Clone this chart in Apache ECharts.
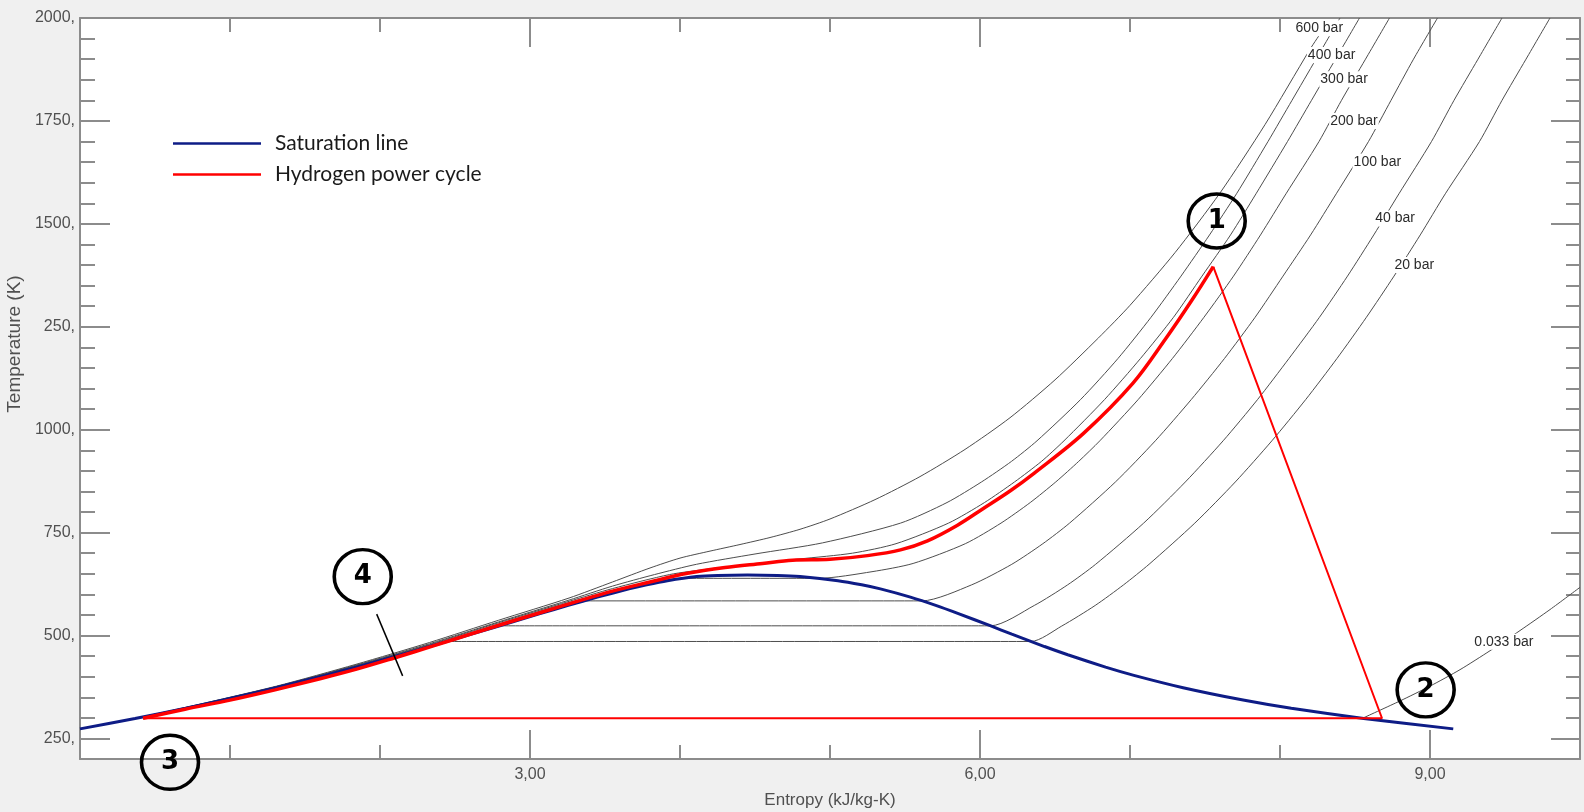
<!DOCTYPE html>
<html lang="en">
<head>
<meta charset="utf-8">
<title>T-s diagram - hydrogen power cycle</title>
<script src="https://cdn.jsdelivr.net/npm/echarts@6.0.0/dist/echarts.min.js"></script>
<style>
  html, body { margin: 0; padding: 0; background: #f0f0f0; }
  #main { width: 1584px; height: 812px; }
</style>
</head>
<body>
<div id="main"></div>
<script type="text/javascript">
// ---- data (entropy kJ/kg-K, temperature K) ----
var xMajorTicks = [3, 6, 9];
var xTickLabels = ['3,00', '6,00', '9,00'];
var xMinorTicks = [1, 2, 4, 5, 7, 8];
var yMajorTicks = [250, 500, 750, 1000, 1250, 1500, 1750, 2000];
var yTickLabels = ['250,', '500,', '750,', '1000,', '250,', '1500,', '1750,', '2000,'];
var yMinorTicks = [300, 350, 400, 450, 550, 600, 650, 700, 800, 850, 900, 950,
    1050, 1100, 1150, 1200, 1300, 1350, 1400, 1450, 1550, 1600, 1650, 1700,
    1800, 1850, 1900, 1950];

var satLine = [[0.0, 273.2], [0.367, 298.2], [0.704, 323.2], [0.955, 343.2], [1.307, 373.2],
    [1.634, 403.2], [1.842, 423.2], [2.139, 453.2], [2.331, 473.2], [2.610, 503.2],
    [2.793, 523.2], [3.067, 553.2], [3.255, 573.2], [3.449, 593.2], [3.660, 613.2],
    [3.778, 623.2], [3.916, 633.2], [4.111, 643.2], [4.25, 646.0], [4.45, 647.0],
    [4.65, 646.0], [4.800, 643.2], [5.053, 633.2], [5.211, 623.2], [5.336, 613.2],
    [5.536, 593.2], [5.705, 573.2], [5.856, 553.2], [6.072, 523.2], [6.212, 503.2],
    [6.430, 473.2], [6.585, 453.2], [6.837, 423.2], [7.026, 403.2], [7.354, 373.2],
    [7.754, 343.2], [8.075, 323.2], [8.558, 298.2], [9.155, 273.2]];

var cycleCurve = [[0.42, 299], [0.70, 321], [1.00, 343], [1.30, 368], [1.60, 395], [1.85, 419],
    [2.10, 446], [2.35, 474], [2.60, 503], [2.90, 537], [3.20, 570], [3.50, 603], [3.80, 630],
    [4.05, 651], [4.30, 665], [4.55, 675], [4.75, 683], [5.00, 685], [5.25, 694], [5.47, 708],
    [5.65, 730], [5.85, 768], [6.02, 808], [6.20, 851], [6.36, 894], [6.69, 991], [7.02, 1113],
    [7.24, 1222], [7.41, 1313], [7.555, 1396]];
var cycleClosing = [[7.555, 1396], [8.68, 299], [0.42, 299]];

var isobar600 = [[0, 273.5], [0.37, 299], [0.70, 325], [1.31, 377], [1.84, 430], [2.33, 483],
    [2.79, 537], [3.26, 591], [3.55, 630], [3.80, 664], [4.00, 688], [4.20, 705], [4.40, 721],
    [4.60, 738], [4.80, 758], [5.00, 783], [5.30, 830], [5.60, 886], [5.90, 952], [6.20, 1029],
    [6.50, 1121], [6.79, 1223], [7.00, 1302], [7.30, 1430], [7.60, 1575], [7.90, 1741],
    [8.20, 1924], [8.28, 1968]];
var isobar400 = [[0, 273.4], [0.37, 298.8], [0.70, 324.4], [1.31, 376], [1.84, 428], [2.33, 480],
    [2.79, 533], [3.26, 586], [3.55, 620], [3.83, 648], [4.11, 673], [4.50, 698], [4.95, 725],
    [5.47, 773], [5.78, 823], [6.01, 873], [6.21, 923], [6.38, 973], [6.67, 1073], [6.92, 1173],
    [7.14, 1273], [7.34, 1373], [7.53, 1473], [7.71, 1573], [7.92, 1700],
    [8.08, 1800], [8.24, 1900], [8.40, 2000]];
var isobar300 = [[0, 273.3], [0.37, 298.6], [0.70, 324], [1.31, 375], [1.84, 427], [2.33, 478],
    [2.79, 531], [3.26, 583], [3.55, 614], [3.93, 648], [4.20, 662], [4.47, 673], [4.80, 686],
    [5.15, 700], [5.44, 723], [5.79, 773], [6.03, 823], [6.23, 873], [6.41, 923], [6.56, 973],
    [6.83, 1073], [7.07, 1173], [7.29, 1273], [7.48, 1373], [7.67, 1473], [7.84, 1573],
    [8.05, 1700], [8.21, 1800], [8.37, 1900], [8.53, 2000]];
var isobar200 = [[0, 273.3], [0.37, 298.5], [0.70, 323.8], [1.31, 374.5], [1.84, 425.5],
    [2.33, 476], [2.79, 528], [3.26, 580], [3.60, 610], [4.015, 638.9], [4.927, 638.9],
    [5.28, 655], [5.554, 675], [5.902, 723], [6.140, 773], [6.335, 823], [6.505, 873],
    [6.658, 923], [6.799, 973], [7.054, 1073], [7.283, 1173], [7.493, 1273], [7.69, 1373],
    [7.87, 1473], [8.04, 1573], [8.26, 1700], [8.41, 1800], [8.57, 1900], [8.73, 2000]];
var isobar100 = [[3.360, 584.1], [5.614, 584.1], [5.944, 623], [6.212, 673], [6.419, 723],
    [6.597, 773], [6.903, 873], [7.169, 973], [7.408, 1073], [7.63, 1173], [7.834, 1273],
    [8.02, 1373], [8.204, 1473], [8.375, 1573], [8.59, 1700], [8.74, 1800],
    [8.89, 1900], [9.05, 2000]];
var isobar40 = [[2.797, 523.5], [6.070, 523.5], [6.362, 573], [6.584, 623], [6.771, 673],
    [7.091, 773], [7.369, 873], [7.621, 973], [7.850, 1073], [8.06, 1173], [8.263, 1273],
    [8.45, 1373], [8.625, 1473], [8.793, 1573], [9.01, 1700], [9.16, 1800],
    [9.32, 1900], [9.48, 2000]];
var isobar20 = [[2.447, 485.5], [6.340, 485.5], [6.545, 523], [6.768, 573], [6.957, 623],
    [7.127, 673], [7.432, 773], [7.702, 873], [7.946, 973], [8.171, 1073], [8.38, 1173],
    [8.576, 1273], [8.76, 1373], [8.935, 1473], [9.102, 1573], [9.33, 1700],
    [9.48, 1800], [9.64, 1900], [9.80, 2000]];
var isobar0033 = [[8.55, 299], [8.80, 341], [9.00, 377], [9.20, 417], [9.40, 463],
    [9.60, 512], [9.80, 563], [10.0, 617]];

var isobarNames = ['600 bar', '400 bar', '300 bar', '200 bar', '100 bar', '40 bar', '20 bar', '0.033 bar'];
var isobarLabelAt = [[8.262, 1975], [8.344, 1910], [8.427, 1851], [8.493, 1750],
    [8.649, 1651], [8.767, 1513], [8.895, 1400], [9.493, 485]];

var stateNames = ['1', '2', '3', '4'];
var stateAt = [[7.578, 1507], [8.971, 368], [0.60, 192], [1.885, 643]];
var pointer4 = [[1.978, 552], [2.151, 402]];

// ---- chart ----
var myChart = echarts.init(document.getElementById('main'));
var axisGray = '#8c8c8c';
var tickFont = 'Liberation Sans';

function frameAxis(position, ticks, len, withLine, range) {
    return {
        type: 'value', position: position, min: range[0], max: range[1],
        axisLine: { show: withLine, onZero: false, lineStyle: { color: axisGray, width: 2 } },
        axisTick: { show: true, inside: true, length: len, customValues: ticks,
                    lineStyle: { color: axisGray, width: 2 } },
        axisLabel: { show: false },
        splitLine: { show: false }
    };
}

var xRange = [0, 10], yRange = [200, 2000];
var xMain = frameAxis('bottom', xMajorTicks, 29, true, xRange);
xMain.axisLabel = {
    show: true, customValues: xMajorTicks, margin: 8, color: '#505050',
    fontSize: 16, fontFamily: tickFont,
    formatter: function (v) { return xTickLabels[xMajorTicks.indexOf(v)]; }
};
xMain.name = 'Entropy (kJ/kg-K)';
xMain.nameLocation = 'middle';
xMain.nameGap = 33;
xMain.nameTextStyle = { color: '#505050', fontSize: 17, fontFamily: tickFont };

var yMain = frameAxis('left', yMajorTicks, 30, true, yRange);
yMain.axisLabel = {
    show: true, customValues: yMajorTicks, margin: 5, color: '#505050',
    fontSize: 16, fontFamily: tickFont,
    formatter: function (v) { return yTickLabels[yMajorTicks.indexOf(v)]; }
};

var series = [];
var isobarData = [isobar600, isobar400, isobar300, isobar200, isobar100, isobar40, isobar20, isobar0033];
for (var i = 0; i < isobarData.length; i++) {
    series.push({
        type: 'line', name: isobarNames[i], data: isobarData[i], symbol: 'none',
        smooth: 0.25, silent: true, z: 1,
        lineStyle: { color: '#4d4d4d', width: 1 }
    });
}
series.push({
    type: 'scatter', name: 'isobar labels', silent: true, z: 2, symbolSize: 1,
    itemStyle: { color: 'rgba(0,0,0,0)', opacity: 1 },
    label: { show: true, position: 'inside', formatter: '{b}', color: '#2b2b2b',
             fontSize: 14, fontFamily: tickFont, backgroundColor: '#fff', padding: [1, 1] },
    data: isobarNames.map(function (n, k) { return { name: n, value: isobarLabelAt[k] }; })
});
series.push({
    type: 'line', name: 'Saturation line', data: satLine, symbol: 'none', smooth: 0.2,
    z: 3, lineStyle: { color: '#0e1c86', width: 3 }, itemStyle: { color: '#0e1c86' }
});
series.push({
    type: 'line', name: 'Hydrogen power cycle', data: cycleCurve, symbol: 'none', smooth: 0.35,
    z: 4, lineStyle: { color: '#ff0000', width: 3.5 }, itemStyle: { color: '#ff0000' }
});
series.push({
    type: 'line', name: 'Hydrogen power cycle', data: cycleClosing, symbol: 'none',
    z: 4, lineStyle: { color: '#ff0000', width: 2 }, itemStyle: { color: '#ff0000' }
});
series.push({
    type: 'line', name: 'pointer', data: pointer4, symbol: 'none', silent: true,
    z: 5, lineStyle: { color: '#000', width: 1.5 }
});
series.push({
    type: 'scatter', name: 'states', clip: false, silent: true, z: 6,
    symbol: 'circle', symbolSize: [57, 54],
    itemStyle: { color: 'rgba(0,0,0,0)', borderColor: '#000', borderWidth: 3.5, opacity: 1 },
    label: { show: true, position: 'inside', formatter: '{b}', color: '#000',
             fontSize: 26, fontWeight: 'bold', fontFamily: 'DejaVu Sans' },
    data: stateNames.map(function (n, k) { return { name: n, value: stateAt[k] }; })
});

myChart.setOption({
    animation: false,
    backgroundColor: '#f0f0f0',
    grid: { left: 80, right: 4, top: 18, bottom: 53, show: true, outerBoundsMode: 'none',
            containLabel: false, backgroundColor: '#ffffff', borderWidth: 0 },
    legend: {
        data: ['Saturation line', 'Hydrogen power cycle'],
        orient: 'vertical', left: 168, top: 128,
        icon: 'rect', itemWidth: 88, itemHeight: 2.5, itemGap: 10,
        textStyle: { color: '#1a1a1a', fontSize: 21, fontFamily: 'Lato', lineHeight: 21,
                     padding: [0, 0, 0, 9] },
        selectedMode: false
    },
    xAxis: [xMain,
            frameAxis('bottom', xMinorTicks, 14, false, xRange),
            frameAxis('top', xMajorTicks, 29, true, xRange),
            frameAxis('top', xMinorTicks, 14, false, xRange)],
    yAxis: [yMain,
            frameAxis('left', yMinorTicks, 15, false, yRange),
            frameAxis('right', yMajorTicks, 29, true, yRange),
            frameAxis('right', yMinorTicks, 14, false, yRange)],
    graphic: [{
        type: 'text', x: 15, y: 344, rotation: Math.PI / 2,
        style: { text: 'Temperature (K)', fill: '#505050', font: '19px "Liberation Sans"',
                 align: 'center', verticalAlign: 'middle' }
    }],
    series: series
});
</script>
</body>
</html>
